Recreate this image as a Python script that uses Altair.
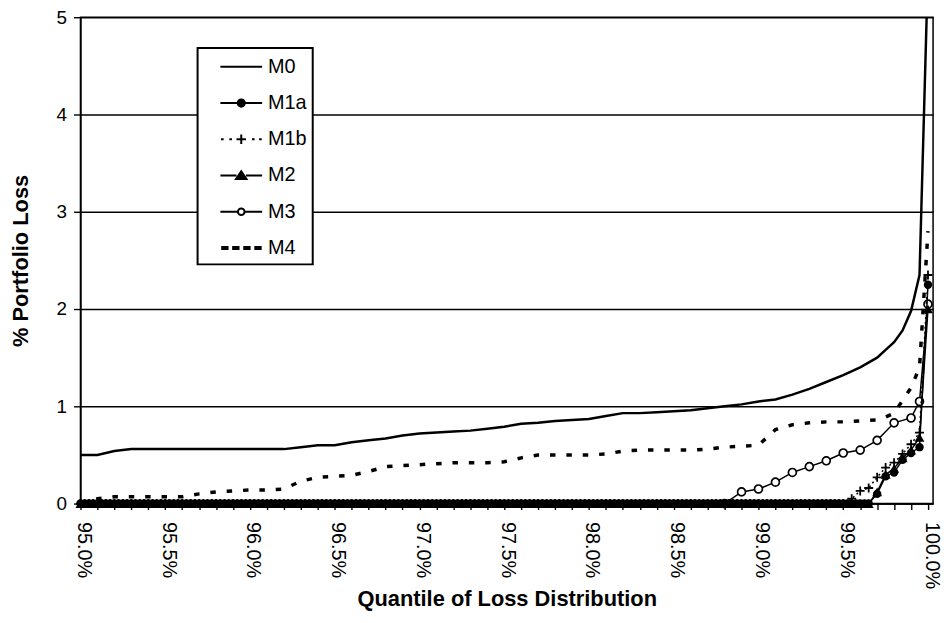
import altair as alt
import pandas as pd

FONT = "Liberation Sans"
SERIES = ["M0", "M1a", "M1b", "M2", "M3", "M4"]

# ---- quantile grids (x categories) ----
Q_TAIL = [99.75, 99.8, 99.85, 99.9, 99.95, 100.0]
Q_LINE = [round(95.0 + 0.1 * i, 2) for i in range(48)] + Q_TAIL          # 95.0 .. 99.7, then tail
Q_M3 = [98.8, 98.9, 99.0, 99.1, 99.2, 99.3, 99.4, 99.5, 99.6, 99.7, 99.8, 99.9, 99.95, 100.0]
# M1a / M2 / M1b are densely sampled (solid band of markers along zero)
Q_M1A_M2 = [round(95.0 + 0.025 * i, 3) for i in range(187)] + [99.7] + Q_TAIL      # .. 99.65, then 99.7 .. 100
Q_M1B = [round(95.0 + 0.025 * i, 3) for i in range(181)] + [99.55, 99.6, 99.65, 99.7] + Q_TAIL
X_TICKS = [round(95.0 + 0.1 * i, 2) for i in range(51)]
Y_TICKS = [0, 1, 2, 3, 4, 5]

# ---- series values (% portfolio loss) ----
M0 = [0.50, 0.50, 0.54, 0.56, 0.56, 0.56, 0.56, 0.56, 0.56, 0.56,
      0.56, 0.56, 0.56, 0.58, 0.60, 0.60, 0.63, 0.65, 0.67, 0.70,
      0.72, 0.73, 0.74, 0.75, 0.77, 0.79, 0.82, 0.83, 0.85, 0.86,
      0.87, 0.90, 0.93, 0.93, 0.94, 0.95, 0.96, 0.98, 1.00, 1.02,
      1.05, 1.07, 1.12, 1.18, 1.25, 1.32, 1.40, 1.50,
      1.58, 1.66, 1.78, 1.98, 2.35, 5.50]
M4 = [0.00, 0.05, 0.07, 0.07, 0.07, 0.07, 0.07, 0.10, 0.12, 0.13,
      0.14, 0.14, 0.15, 0.23, 0.27, 0.28, 0.29, 0.33, 0.38, 0.39,
      0.40, 0.41, 0.42, 0.42, 0.42, 0.43, 0.47, 0.50, 0.50, 0.50,
      0.50, 0.51, 0.54, 0.55, 0.55, 0.55, 0.55, 0.56, 0.58, 0.59,
      0.60, 0.76, 0.81, 0.83, 0.84, 0.84, 0.85, 0.86,
      0.89, 0.93, 1.06, 1.19, 1.40, 2.80]
M3 = [0.00, 0.12, 0.15, 0.22, 0.32, 0.38, 0.44, 0.52, 0.55, 0.65, 0.83, 0.88, 1.05, 2.05]
M1A = [0.0] * 187 + [0.10, 0.28, 0.32, 0.45, 0.52, 0.58, 2.25]
M2 = [0.0] * 187 + [0.12, 0.30, 0.36, 0.47, 0.55, 0.68, 2.00]
M1B = [0.0] * 181 + [0.05, 0.13, 0.16, 0.27, 0.37, 0.42, 0.51, 0.61, 0.73, 2.35]

# legend glyphs (line + marker) and their fills
LEGEND_PATHS = [
    "M-1.75,0H1.75",
    "M-1.75,0H-0.3M0.3,0H1.75M0.3,0A0.3,0.3,0,1,1,-0.3,0A0.3,0.3,0,1,1,0.3,0Z",
    "M-1.7,0h0.22M-1.0,0h0.22M-0.4,0H0.4M0,-0.4V0.4M0.9,0h0.22M1.5,0h0.22",
    "M-1.75,0H-0.4M0.4,0H1.75M0,-0.36L0.44,0.3L-0.44,0.3Z",
    "M-1.75,0H-0.28M0.28,0H1.75M0.28,0A0.28,0.28,0,1,1,-0.28,0A0.28,0.28,0,1,1,0.28,0Z",
    "M-1.6,-0.08h0.45v0.16h-0.45ZM-0.68,-0.08h0.45v0.16h-0.45ZM0.25,-0.08h0.45v0.16h-0.45ZM1.18,-0.08h0.45v0.16h-0.45Z",
]
LEGEND_FILLS = ["black", "black", "black", "black", "white", "black"]
LEGEND_STROKES = ["black"] * 6


def frame(qs, vs):
    return pd.DataFrame({"q": qs, "v": vs})


x_axis = alt.Axis(
    values=X_TICKS,
    labelExpr="abs(datum.value * 2 - round(datum.value * 2)) < 0.001 ? format(datum.value, '.1f') + '%' : ''",
    labelAngle=90,
    labelOverlap=False,
    labelFontSize=20,
    labelPadding=12,
    labelOffset=3,
    tickSize=6,
    grid=False,
    titleFontSize=22,
    titleFontWeight="bold",
    titleY=96,
    titleBaseline="middle",
)
y_axis = alt.Axis(
    values=Y_TICKS,
    format="d",
    labelFontSize=19,
    labelPadding=7,
    tickSize=7,
    grid=True,
    gridColor="black",
    gridWidth=1.4,
    titleFontSize=22,
    titleFontWeight="bold",
    titleX=-60,
    titleBaseline="middle",
)

X = alt.X("q:Q", scale=alt.Scale(domain=[95, 100.03], nice=False, zero=False),
          axis=x_axis, title="Quantile of Loss Distribution")
Y = alt.Y("v:Q", scale=alt.Scale(domain=[0, 5], nice=False),
          axis=y_axis, title="% Portfolio Loss")

m0 = alt.Chart(frame(Q_LINE, M0)).mark_line(color="black", strokeWidth=2.5, clip=True).encode(x=X, y=Y)
m4 = alt.Chart(frame(Q_LINE, M4)).mark_line(
    color="black", strokeWidth=3.5, strokeDash=[5.5, 11], clip=True).encode(x=X, y=Y)

m3_line = alt.Chart(frame(Q_M3, M3)).mark_line(color="black", strokeWidth=1.5).encode(x=X, y=Y)
m3_pts = alt.Chart(frame(Q_M3, M3)).mark_point(
    shape="circle", filled=True, fill="white", stroke="black", strokeWidth=1.7, size=64, opacity=1).encode(x=X, y=Y)

m1b_line = alt.Chart(frame(Q_M1B, M1B)).mark_line(
    color="black", strokeWidth=1.5, strokeDash=[2, 3]).encode(x=X, y=Y)
m1b_pts = alt.Chart(frame(Q_M1B, M1B)).mark_point(
    shape="M-1,0H1M0,-1V1", filled=False, stroke="black", strokeWidth=1.8, size=81, opacity=1).encode(x=X, y=Y)

m2_line = alt.Chart(frame(Q_M1A_M2, M2)).mark_line(color="black", strokeWidth=1.5).encode(x=X, y=Y)
m2_pts = alt.Chart(frame(Q_M1A_M2, M2)).mark_point(
    shape="triangle-up", filled=True, color="black", size=100, opacity=1).encode(x=X, y=Y)

m1a_line = alt.Chart(frame(Q_M1A_M2, M1A)).mark_line(color="black", strokeWidth=1.5).encode(x=X, y=Y)
m1a_pts = alt.Chart(frame(Q_M1A_M2, M1A)).mark_point(
    shape="circle", filled=True, color="black", size=72, opacity=1).encode(x=X, y=Y)

leg = alt.Legend(
    title=None,
    orient="none",
    legendX=118,
    legendY=31,
    fillColor="white",
    strokeColor="black",
    padding=6,
    symbolSize=576,
    symbolStrokeWidth=2,
    symbolStrokeColor="black",
    symbolOffset=25,
    labelOffset=14,
    rowPadding=13.5,
    labelFontSize=20,
    labelFont=FONT,
    labelExpr="datum.label + '\u00a0\u00a0\u00a0\u00a0'",
)

legend_layer = alt.Chart(pd.DataFrame({"series": SERIES})).transform_filter("false").mark_point(
    strokeWidth=2, opacity=1
).encode(
    shape=alt.Shape("series:N", scale=alt.Scale(domain=SERIES, range=LEGEND_PATHS), legend=leg, title=None),
    fill=alt.Fill("series:N", scale=alt.Scale(domain=SERIES, range=LEGEND_FILLS), legend=leg, title=None),
    stroke=alt.Stroke("series:N", scale=alt.Scale(domain=SERIES, range=LEGEND_STROKES), legend=leg, title=None),
)

chart = alt.layer(
    m0, m4, m3_line, m3_pts, m1b_line, m1b_pts, m2_line, m2_pts, m1a_line, m1a_pts, legend_layer
).properties(
    width=859,
    height=490,
    padding={"left": 73, "top": 7, "right": 10, "bottom": 115},
    autosize=alt.AutoSizeParams(type="none"),
    background="white",
).configure_view(
    stroke="black", strokeWidth=1.5
).configure_axis(
    labelFont=FONT, titleFont=FONT, labelColor="black", titleColor="black",
    domainColor="black", domainWidth=1.5, tickColor="black", tickWidth=1.4,
).configure_legend(
    strokeWidth=2
)

chart.save("out.html", embed_options={"renderer": "svg", "actions": False})
